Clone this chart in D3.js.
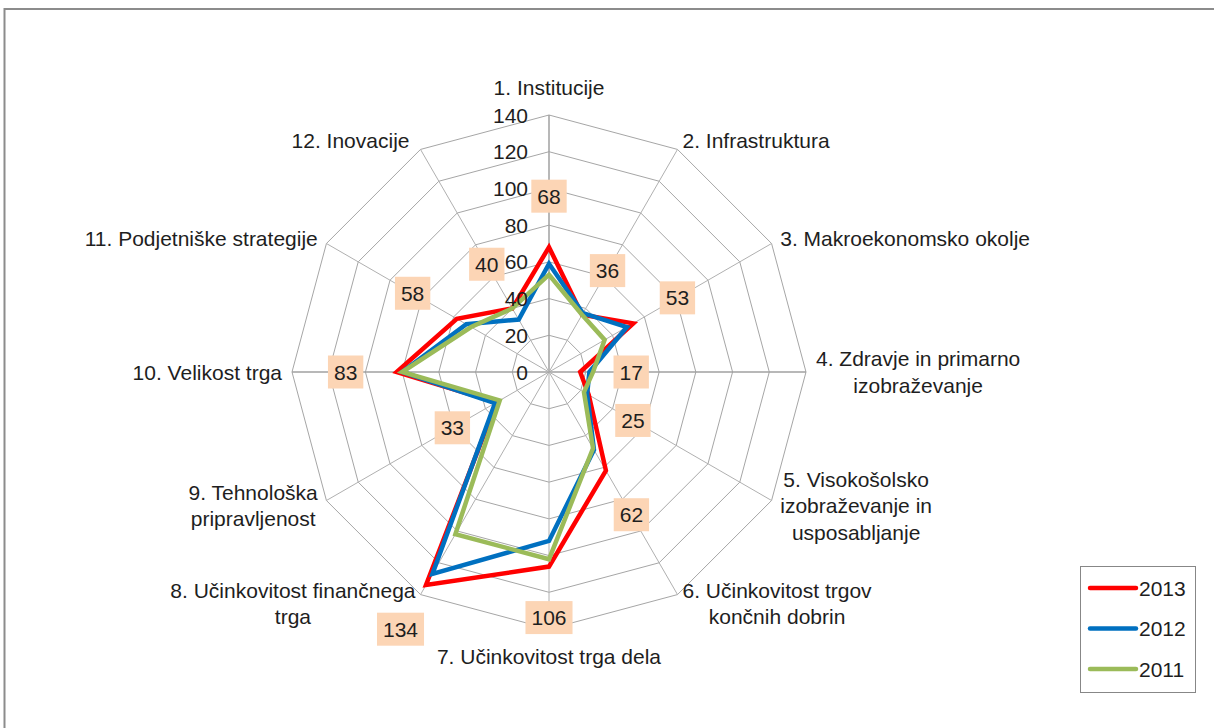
<!DOCTYPE html>
<html>
<head>
<meta charset="utf-8">
<script src="https://cdn.jsdelivr.net/npm/d3@7"></script>
<style>
  body { margin: 0; background: #fff; }
  svg { display: block; }
  text { font-family: "Liberation Sans", Arial, sans-serif; fill: #1e1e1e; }
</style>
</head>
<body>
<svg id="chart" width="1214" height="728"></svg>
<script>
const categories = [
  "1. Institucije",
  "2. Infrastruktura",
  "3. Makroekonomsko okolje",
  "4. Zdravje in primarno\nizobraževanje",
  "5. Visokošolsko\nizobraževanje in\nusposabljanje",
  "6. Učinkovitost trgov\nkončnih dobrin",
  "7. Učinkovitost trga dela",
  "8. Učinkovitost finančnega\ntrga",
  "9. Tehnološka\npripravljenost",
  "10. Velikost trga",
  "11. Podjetniške strategije",
  "12. Inovacije"
];
const values2013 = [68, 36, 53, 17, 25, 62, 106, 134, 33, 83, 58, 40];
const values2012 = [59, 37, 49, 22, 24, 49, 92, 127, 34, 80, 52, 33];
const values2011 = [53, 36, 35, 24, 22, 48, 102, 102, 31, 80, 49, 40];
const ticks = [0, 20, 40, 60, 80, 100, 120, 140];
const seriesNames = ["2013", "2012", "2011"];
const seriesColors = ["#ff0000", "#0070c0", "#9bbb59"];

const svg = d3.select("#chart");
const cx = 549, cy = 372, R = 257;
const FS = "21px";

const r = d3.scaleLinear().domain([0, 140]).range([0, R]);
const angle = d3.scaleLinear().domain([0, categories.length]).range([0, 2 * Math.PI]);

function pt(i, rad) {
  const a = angle(i);
  return [cx + rad * Math.sin(a), cy - rad * Math.cos(a)];
}

// outer frame
svg.append("rect")
  .attr("x", 4.5).attr("y", 9)
  .attr("width", 1230).attr("height", 740)
  .attr("fill", "none")
  .attr("stroke", "#8c8c8c")
  .attr("stroke-width", 2);

const g = svg.append("g");

// grid rings
ticks.filter(t => t > 0).forEach(t => {
  const pts = categories.map((c, i) => pt(i, r(t)));
  g.append("polygon")
    .attr("points", pts.map(p => p.join(",")).join(" "))
    .attr("fill", "none")
    .attr("stroke", "#a6a6a6")
    .attr("stroke-width", 1);
});

// spokes
categories.forEach((c, i) => {
  const p = pt(i, R);
  const main = i === 0 || i === 3 || i === 9;
  g.append("line")
    .attr("x1", cx).attr("y1", cy)
    .attr("x2", p[0]).attr("y2", p[1])
    .attr("stroke", main ? "#a0a0a0" : "#b0b0b0")
    .attr("stroke-width", main ? 1.5 : 1);
});

// series lines
const line = d3.lineRadial()
  .angle((d, i) => angle(i))
  .radius(d => r(d))
  .curve(d3.curveLinearClosed);

[values2013, values2012, values2011].forEach((vals, k) => {
  g.append("path")
    .attr("transform", `translate(${cx},${cy})`)
    .attr("d", line(vals))
    .attr("fill", "none")
    .attr("stroke", seriesColors[k])
    .attr("stroke-width", 4.5)
    .attr("stroke-linejoin", "miter");
});

// tick labels
ticks.forEach(t => {
  g.append("text")
    .attr("x", 528)
    .attr("y", cy - r(t))
    .attr("dy", "0.36em")
    .attr("text-anchor", "end")
    .style("font-size", FS)
    .text(t);
});

// data labels (2013)
values2013.forEach((v, i) => {
  const p = pt(i, r(v) + 51);
  const lg = g.append("g");
  const txt = lg.append("text")
    .attr("x", p[0]).attr("y", p[1])
    .attr("dy", "0.36em")
    .attr("text-anchor", "middle")
    .style("font-size", FS)
    .text(v);
  const w = txt.node().getComputedTextLength();
  lg.insert("rect", "text")
    .attr("x", p[0] - w / 2 - 6)
    .attr("y", p[1] - 16.5)
    .attr("width", w + 12)
    .attr("height", 33)
    .attr("fill", "#fcd5b5");
});

// category labels
const lineH = 26.5;
categories.forEach((c, i) => {
  const lines = c.split("\n");
  const a = angle(i);
  const s = Math.sin(a), co = Math.cos(a);
  const p = pt(i, R + 10);
  const lg = g.append("g");
  const texts = lines.map(l => lg.append("text")
    .attr("text-anchor", "middle")
    .style("font-size", FS)
    .text(l));
  const w = d3.max(texts, t => t.node().getComputedTextLength());
  const h = lines.length * lineH;
  let bx, by;
  if (s > 0.1) bx = p[0] + w / 2;
  else if (s < -0.1) bx = p[0] - w / 2 - (i === 11 ? 6 : 0);
  else bx = p[0];
  if (Math.abs(s) > 0.1) by = p[1];
  else if (co > 0) by = p[1] - h / 2 - 4;
  else by = p[1] + h / 2 + 4;
  texts.forEach((t, j) => {
    t.attr("x", bx)
      .attr("y", by - h / 2 + lineH * j + lineH / 2)
      .attr("dy", "0.36em");
  });
});

// legend
const leg = svg.append("g");
leg.append("rect")
  .attr("x", 1080.5).attr("y", 566.5)
  .attr("width", 115).attr("height", 126)
  .attr("fill", "#fff")
  .attr("stroke", "#878787")
  .attr("stroke-width", 1);
seriesNames.forEach((n, k) => {
  const y = 588 + k * 40.5;
  leg.append("line")
    .attr("x1", 1090).attr("x2", 1136)
    .attr("y1", y).attr("y2", y)
    .attr("stroke", seriesColors[k])
    .attr("stroke-width", 4.5)
    .attr("stroke-linecap", "round");
  leg.append("text")
    .attr("x", 1139).attr("y", y)
    .attr("dy", "0.36em")
    .style("font-size", FS)
    .text(n);
});
</script>
</body>
</html>
